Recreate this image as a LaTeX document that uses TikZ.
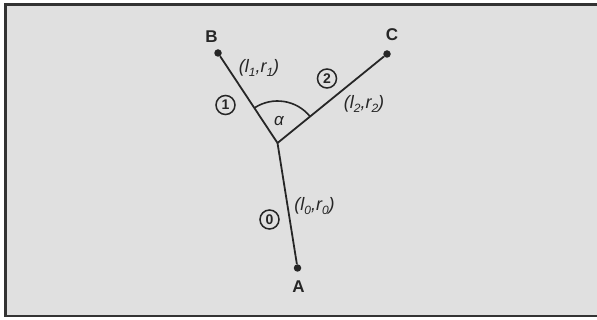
\documentclass[tikz,border=0pt]{standalone}
\usepackage{fontspec}
\setmainfont{Liberation Sans}
\newcommand{\sbx}[1]{\raisebox{-3.5pt}{\fontsize{12}{12}\selectfont #1}}
\begin{document}
\begin{tikzpicture}[x=1pt,y=-1pt,
  seg/.style={line width=1.8pt,draw=black!85},
  pt/.style={circle,fill=black!85,inner sep=0pt,minimum size=7.5pt},
  letter/.style={font=\fontsize{17}{17}\selectfont\bfseries,text=black!85},
  lab/.style={font=\fontsize{18}{18}\selectfont\itshape,text=black!85,inner sep=0pt},
  num/.style={circle,draw=black!85,line width=1.5pt,inner sep=0pt,minimum size=19pt,font=\fontsize{14}{14}\selectfont\bfseries,text=black!85}]
\useasboundingbox (0,0) rectangle (597,320);
\fill[white] (0,0) rectangle (597,320);
\begin{scope}
\clip (0,0) rectangle (597,320);
\draw[line width=2.5pt,draw=black!80,fill=black!12] (5.5,4.5) rectangle (605,316);
\end{scope}
\coordinate (J) at (277.5,143);
\node[pt] (A) at (297.5,268) {};
\node[pt] (B) at (218,53) {};
\node[pt] (C) at (387,54) {};
\draw[seg] (J) -- (A);
\draw[seg] (J) -- (B);
\draw[seg] (J) -- (C);
\draw[seg,line width=1.6pt] ([shift={(39:42pt)}]J) arc[start angle=39,end angle=123,radius=42pt];
\node[letter] (lA) at (298.5,287) {A};
\node[letter] (lB) at (211.5,36.5) {B};
\node[letter] (lC) at (392,35) {C};
\node[lab] (l1) at (259,68) {(l\sbx{1},r\sbx{1})};
\node[lab] (l2) at (364,104) {(l\sbx{2},r\sbx{2})};
\node[lab] (l0) at (314.5,206) {(l\sbx{0},r\sbx{0})};
\node[lab,font=\fontsize{17}{17}\selectfont\itshape] (al) at (279,121.5) {α};
\node[num] (n1) at (225.5,105) {1};
\node[num] (n2) at (327,78.5) {2};
\node[num] (n0) at (269.5,219.5) {0};
\end{tikzpicture}
\end{document}
